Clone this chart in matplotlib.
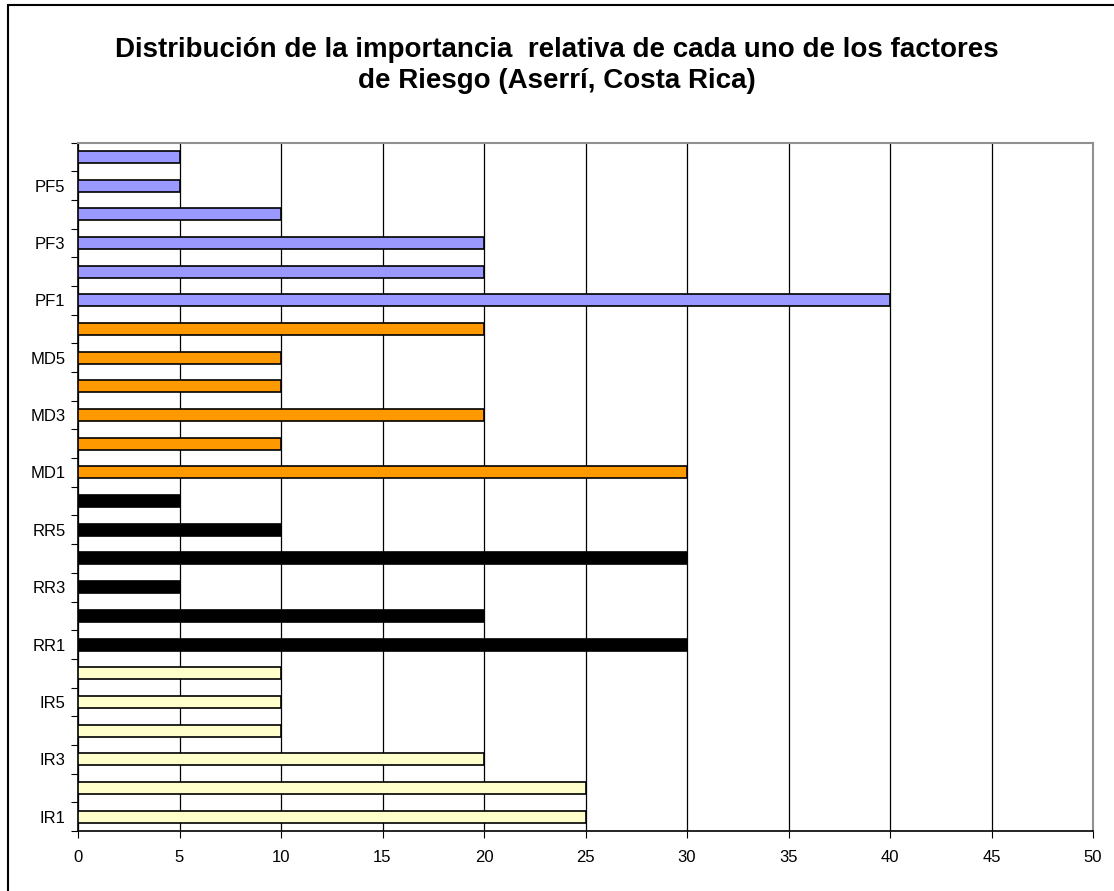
import matplotlib.pyplot as plt
from matplotlib.patches import Rectangle

plt.rcParams['font.family'] = ['Liberation Sans', 'DejaVu Sans']

# Categories bottom to top
categories = ['IR1', 'IR2', 'IR3', 'IR4', 'IR5', 'IR6',
              'RR1', 'RR2', 'RR3', 'RR4', 'RR5', 'RR6',
              'MD1', 'MD2', 'MD3', 'MD4', 'MD5', 'MD6',
              'PF1', 'PF2', 'PF3', 'PF4', 'PF5', 'PF6']
ir_values = [25, 25, 20, 10, 10, 10]
rr_values = [30, 20, 5, 30, 10, 5]
md_values = [30, 10, 20, 10, 10, 20]
pf_values = [40, 20, 20, 10, 5, 5]
group_colors = ['#FFFFCC', '#000000', '#FF9900', '#9999FF']

values = ir_values + rr_values + md_values + pf_values
colors = [c for c in group_colors for _ in range(6)]

fig = plt.figure(figsize=(11.14, 8.91), dpi=100)
ax = fig.add_axes([78 / 1114, 1 - 831 / 891, (1093 - 78) / 1114, (831 - 142.5) / 891])

ypos = list(range(len(categories)))
ax.barh(ypos, values, height=0.42, color=colors, edgecolor='black', linewidth=1.2, zorder=3)

ax.set_xlim(0, 50)
ax.set_ylim(-0.5, len(categories) - 0.5)
ax.set_xticks(range(0, 51, 5))
ax.grid(axis='x', color='black', linewidth=0.9, zorder=0)

# category boundary ticks, labels on every other category
ax.set_yticks([i - 0.5 for i in range(len(categories) + 1)])
ax.set_yticklabels([])
ax.set_yticks(ypos[::2], minor=True)
ax.set_yticklabels(categories[::2], minor=True)
ax.tick_params(axis='y', which='major', length=5, direction='out', color='black')
ax.tick_params(axis='y', which='minor', length=0, pad=9, labelsize=12)
ax.tick_params(axis='x', length=5, direction='out', pad=9, labelsize=12)

for side in ['left', 'bottom']:
    ax.spines[side].set_color('black')
    ax.spines[side].set_linewidth(1.2)
for side in ['top', 'right']:
    ax.spines[side].set_color('#909090')
    ax.spines[side].set_linewidth(1.5)

fig.text(0.5, 1 - 50 / 891, 'Distribución de la importancia  relativa de cada uno de los factores',
         ha='center', va='center', fontsize=20, fontweight='bold')
fig.text(0.5, 1 - 81 / 891, 'de Riesgo (Aserrí, Costa Rica)',
         ha='center', va='center', fontsize=20, fontweight='bold')

# chart area border
fig.patches.append(Rectangle((8 / 1114, -0.1), 1.2, 1 - 5 / 891 + 0.1, transform=fig.transFigure,
                             fill=False, edgecolor='black', linewidth=1.5))

plt.savefig('out.png', dpi=100)
